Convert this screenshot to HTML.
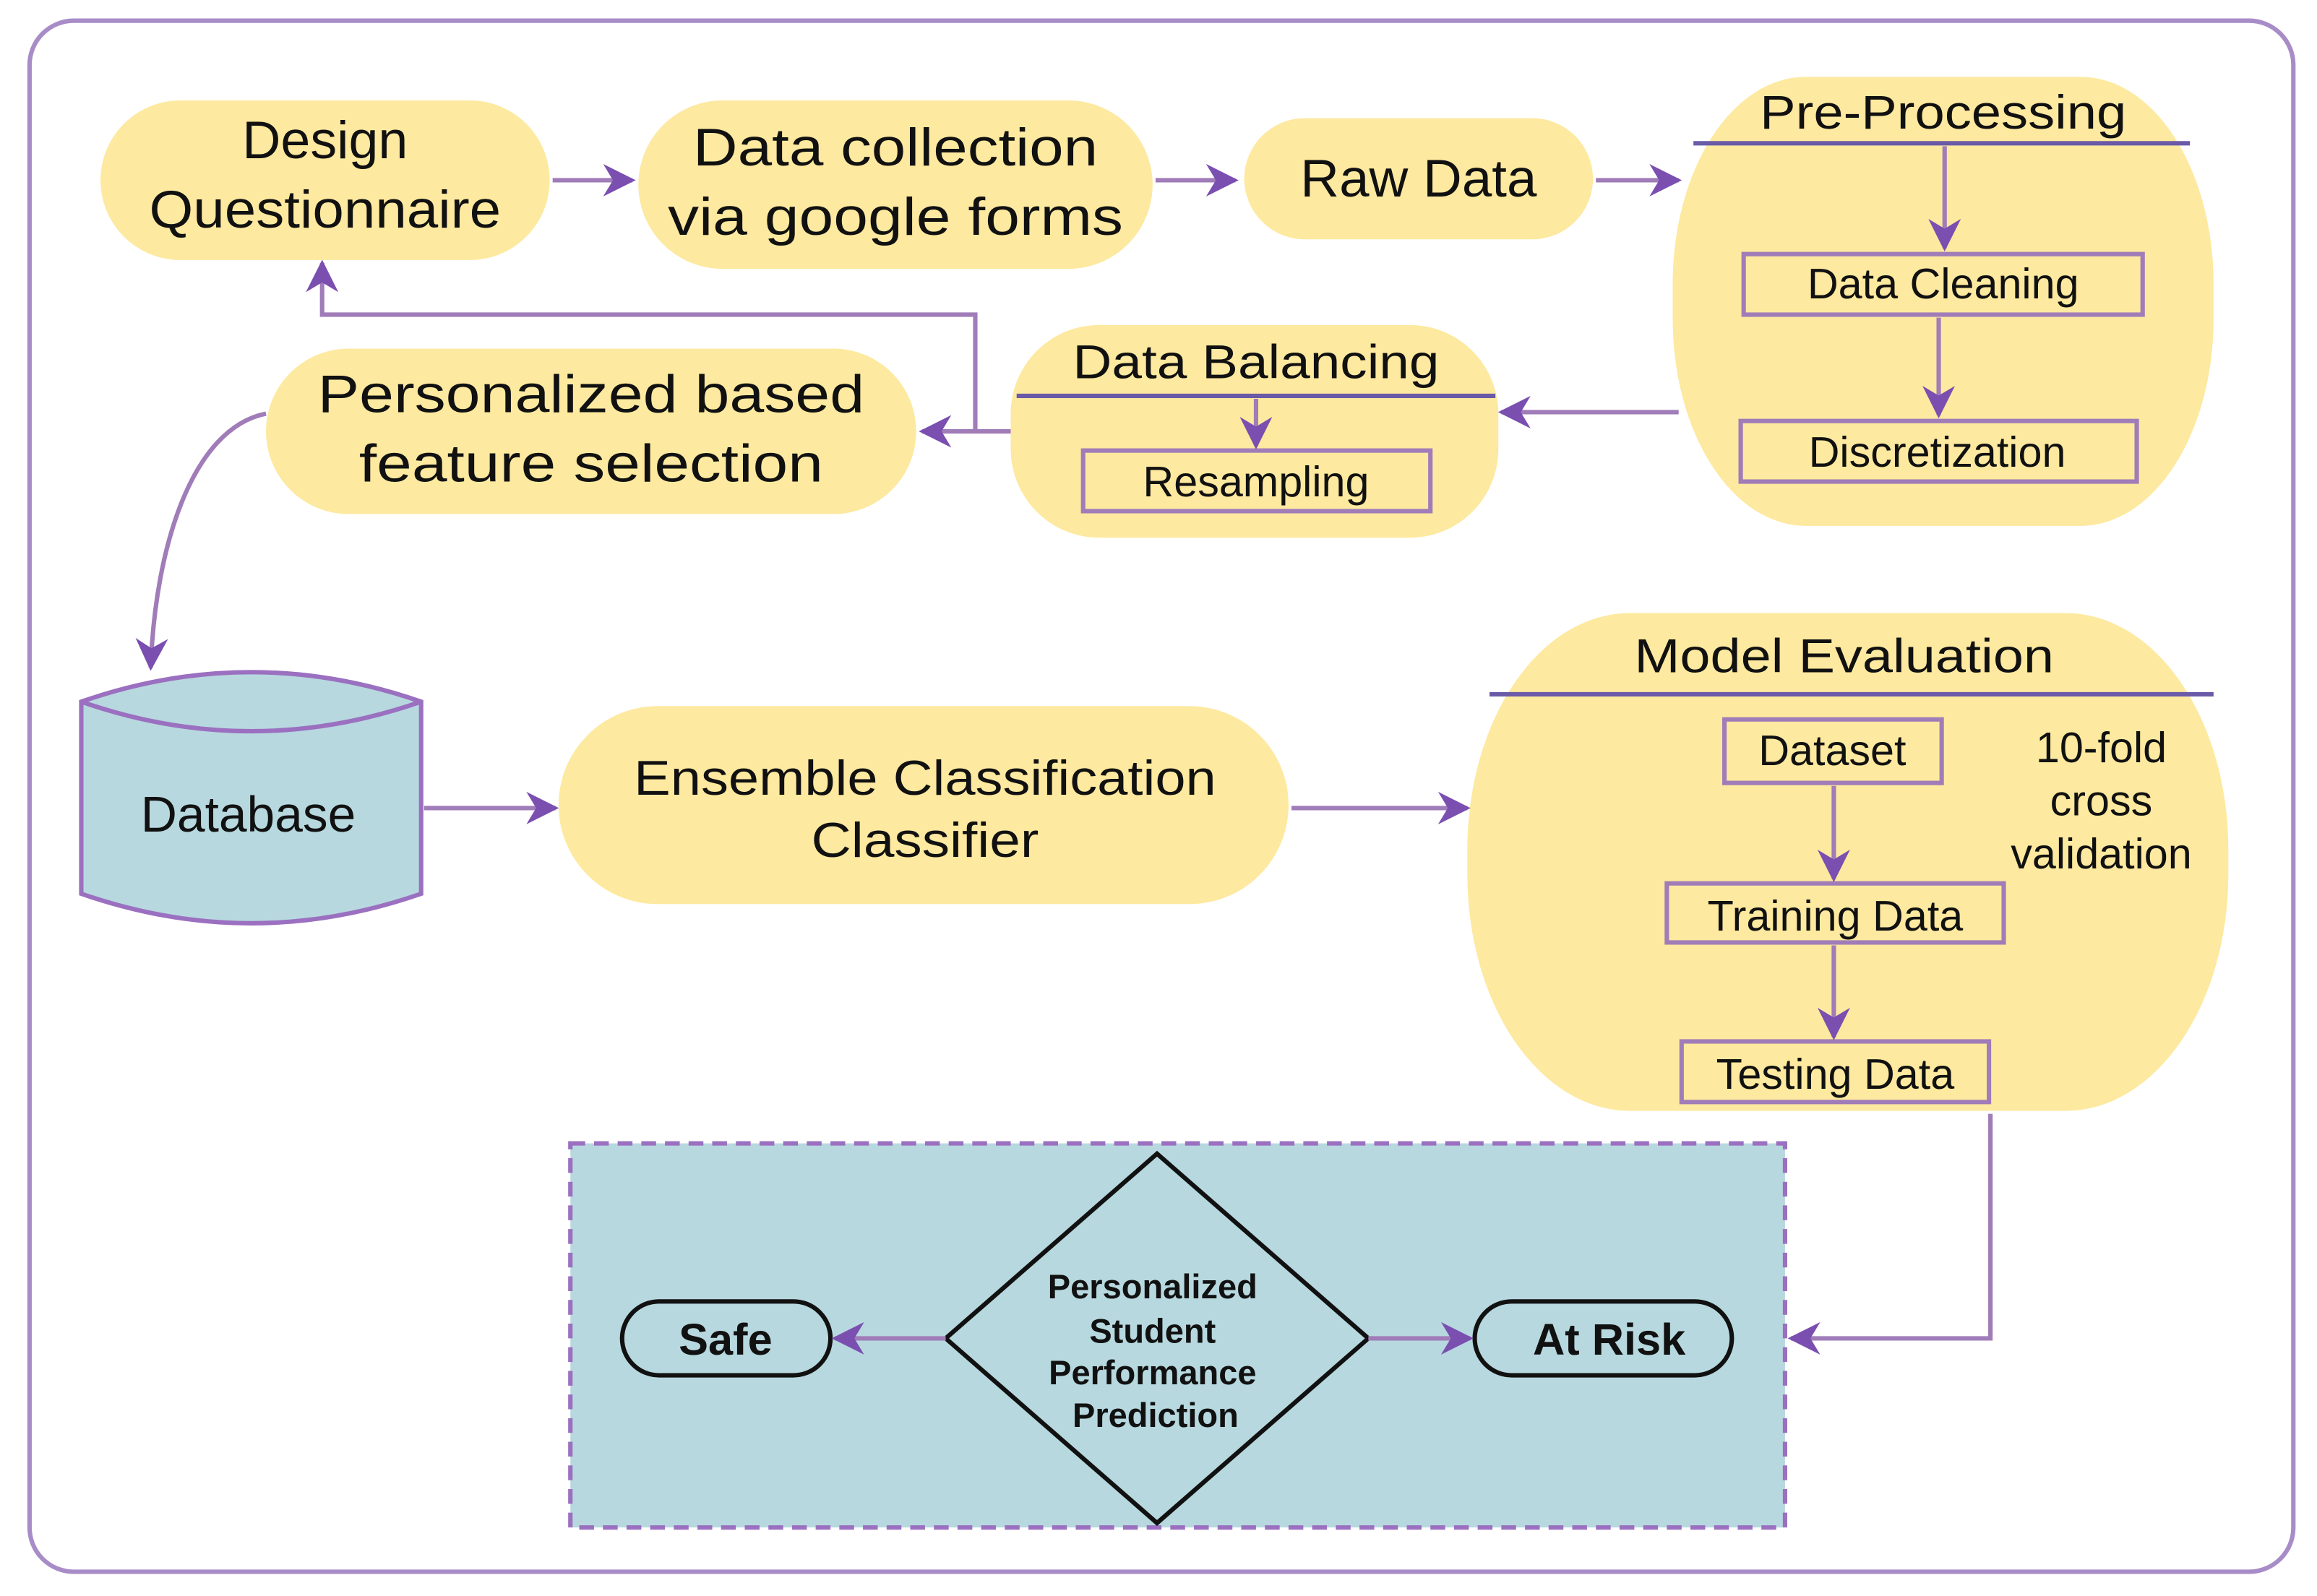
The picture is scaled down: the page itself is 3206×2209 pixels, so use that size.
<!DOCTYPE html>
<html><head><meta charset="utf-8"><style>
html,body{margin:0;padding:0;background:#fff;}
svg{display:block;}
text{font-family:"Liberation Sans",sans-serif;fill:#111;text-anchor:middle;}
</style></head><body>
<svg width="3206" height="2209" viewBox="0 0 1568 1080.4" preserveAspectRatio="none" xmlns="http://www.w3.org/2000/svg">
<defs>
<marker id="b" viewBox="0 0 10 10" refX="9" refY="5" markerWidth="22" markerHeight="22" orient="auto" markerUnits="userSpaceOnUse">
<path d="M0,0 L10,5 L0,10 L3,5 z" fill="#7a4fb0"/></marker>
</defs>
<rect x="20" y="14" width="1532" height="1050" rx="30" fill="#fff" stroke="#a88cc8" stroke-width="3"/>
<g fill="#fde99f">
<rect x="68" y="68" width="304" height="108" rx="54"/>
<rect x="432" y="68" width="348" height="114" rx="57"/>
<rect x="842" y="80" width="236" height="82" rx="41"/>
<rect x="1132" y="52" width="366" height="304" rx="90" ry="140"/>
<rect x="684" y="220" width="330" height="144" rx="60"/>
<rect x="180" y="236" width="440" height="112" rx="56"/>
<rect x="378" y="478" width="494" height="134" rx="67"/>
<rect x="993" y="415" width="515" height="337" rx="110" ry="160"/>
</g>
<g font-size="36" textLength="">
<text x="220" y="107">Design</text><text x="220" y="154" textLength="238" lengthAdjust="spacingAndGlyphs">Questionnaire</text>
<text x="606" y="112" textLength="274" lengthAdjust="spacingAndGlyphs">Data collection</text><text x="606" y="159" textLength="308" lengthAdjust="spacingAndGlyphs">via google forms</text>
<text x="960" y="133" textLength="160" lengthAdjust="spacingAndGlyphs">Raw Data</text>
<text x="400" y="279" textLength="370" lengthAdjust="spacingAndGlyphs">Personalized based</text><text x="400" y="326" textLength="314" lengthAdjust="spacingAndGlyphs">feature selection</text>
</g>
<g font-size="33">
<text x="626" y="538" textLength="394" lengthAdjust="spacingAndGlyphs">Ensemble Classification</text>
<text x="626" y="580" textLength="154" lengthAdjust="spacingAndGlyphs">Classifier</text>
</g>
<text x="1315" y="87" font-size="32" textLength="248" lengthAdjust="spacingAndGlyphs">Pre-Processing</text>
<line x1="1146" y1="97" x2="1482" y2="97" stroke="#6a5aa8" stroke-width="3"/>
<g fill="none" stroke="#a07cb8" stroke-width="3">
<rect x="1180" y="172" width="270" height="41"/>
<rect x="1178" y="285" width="268" height="41"/>
<rect x="733" y="305" width="235" height="41"/>
<rect x="1167" y="487" width="147" height="43"/>
<rect x="1128" y="598" width="228" height="40"/>
<rect x="1138" y="705" width="208" height="41"/>
</g>
<g font-size="29">
<text x="1315" y="202">Data Cleaning</text>
<text x="1311" y="316">Discretization</text>
<text x="850" y="336">Resampling</text>
<text x="1240" y="518">Dataset</text>
<text x="1242" y="630">Training Data</text>
<text x="1242" y="737">Testing Data</text>
<text x="1422" y="516">10-fold</text><text x="1422" y="552">cross</text><text x="1422" y="588">validation</text>
</g>
<text x="850" y="256" font-size="32" textLength="248" lengthAdjust="spacingAndGlyphs">Data Balancing</text>
<line x1="688" y1="268" x2="1012" y2="268" stroke="#6a5aa8" stroke-width="3"/>
<text x="1248" y="455" font-size="32" textLength="284" lengthAdjust="spacingAndGlyphs">Model Evaluation</text>
<line x1="1008" y1="470" x2="1498" y2="470" stroke="#6a5aa8" stroke-width="3"/>
<g fill="none" stroke="#a07cb8" stroke-width="3" marker-end="url(#b)">
<line x1="374" y1="122" x2="428" y2="122"/>
<line x1="782" y1="122" x2="836" y2="122"/>
<line x1="1080" y1="122" x2="1136" y2="122"/>
<line x1="1316" y1="99" x2="1316" y2="168"/>
<line x1="1312" y1="215" x2="1312" y2="281"/>
<line x1="850" y1="270" x2="850" y2="302"/>
<line x1="1136" y1="279" x2="1016" y2="279"/>
<line x1="684" y1="292" x2="624" y2="292"/>
<polyline points="660,292 660,213 218,213 218,178"/>
<path d="M180,280 C130,290 105,370 102,452"/>
<line x1="287" y1="547" x2="376" y2="547"/>
<line x1="874" y1="547" x2="993" y2="547"/>
<line x1="1241" y1="532" x2="1241" y2="595"/>
<line x1="1241" y1="640" x2="1241" y2="702"/>
<polyline points="1347,754 1347,906 1212,906"/>
</g>
<path d="M55,475 Q170,435 285,475 L285,605 Q170,645 55,605 Z" fill="#b7d8df" stroke="#9b70c0" stroke-width="3"/>
<path d="M55,475 Q170,515 285,475" fill="none" stroke="#9b70c0" stroke-width="3"/>
<text x="168" y="563" font-size="34">Database</text>
<rect x="386" y="774" width="822" height="260" fill="#b7d8df" stroke="#9b70c0" stroke-width="3" stroke-dasharray="10,6"/>
<polygon points="783,781 926,906 783,1031 640,906" fill="#b7d8df" stroke="#111" stroke-width="3"/>
<g font-size="23" font-weight="bold">
<text x="780" y="879">Personalized</text><text x="780" y="909">Student</text>
<text x="780" y="937">Performance</text><text x="782" y="966">Prediction</text>
</g>
<rect x="421" y="881" width="141" height="50" rx="25" fill="#b7d8df" stroke="#111" stroke-width="3"/>
<rect x="998" y="881" width="174" height="50" rx="25" fill="#b7d8df" stroke="#111" stroke-width="3"/>
<text x="491" y="917" font-size="30" font-weight="bold">Safe</text>
<text x="1089" y="917" font-size="30" font-weight="bold">At Risk</text>
<g fill="none" stroke="#a07cb8" stroke-width="3" marker-end="url(#b)">
<line x1="640" y1="906" x2="565" y2="906"/>
<line x1="926" y1="906" x2="995" y2="906"/>
</g>
</svg>
</body></html>
